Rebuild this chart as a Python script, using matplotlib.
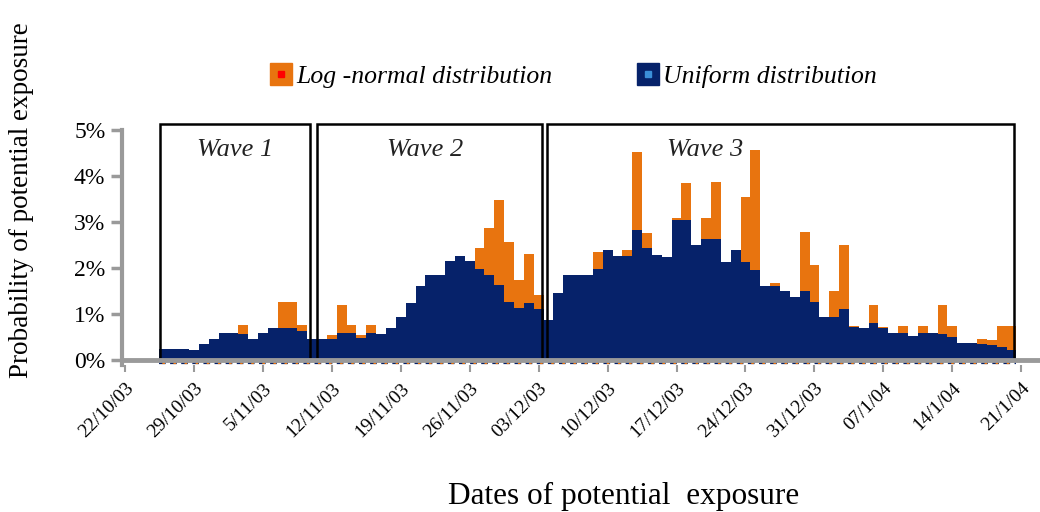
import numpy as np
import matplotlib
matplotlib.use('Agg')
import matplotlib.pyplot as plt
from matplotlib.patches import Rectangle
from matplotlib.lines import Line2D
from matplotlib.legend_handler import HandlerTuple

# days counted from 22/10/03, one bar per day
days = np.arange(4, 91)

uniform = [0.23, 0.23, 0.23, 0.21, 0.34, 0.46, 0.58, 0.58, 0.57, 0.46,
           0.58, 0.70, 0.70, 0.70, 0.64, 0.46, 0.46, 0.46, 0.58, 0.58,
           0.47, 0.58, 0.57, 0.69, 0.94, 1.23, 1.60, 1.85, 1.85, 2.15,
           2.26, 2.15, 1.97, 1.85, 1.63, 1.25, 1.12, 1.24, 1.10, 0.87,
           1.45, 1.85, 1.85, 1.85, 1.97, 2.39, 2.26, 2.26, 2.83, 2.43,
           2.28, 2.24, 3.04, 3.04, 2.50, 2.62, 2.62, 2.12, 2.39, 2.14,
           1.96, 1.61, 1.61, 1.49, 1.36, 1.49, 1.25, 0.94, 0.94, 1.10,
           0.72, 0.69, 0.81, 0.69, 0.58, 0.58, 0.52, 0.59, 0.59, 0.56,
           0.50, 0.37, 0.36, 0.35, 0.33, 0.28, 0.22]

lognormal = [0.23, 0.23, 0.23, 0.21, 0.34, 0.46, 0.58, 0.58, 0.75, 0.46,
             0.58, 0.70, 1.25, 1.25, 0.76, 0.46, 0.46, 0.54, 1.20, 0.75,
             0.54, 0.75, 0.57, 0.69, 0.94, 1.23, 1.60, 1.85, 1.85, 2.15,
             2.26, 2.15, 2.43, 2.88, 3.48, 2.57, 1.74, 2.30, 1.41, 0.87,
             1.45, 1.85, 1.85, 1.85, 2.35, 2.39, 2.26, 2.39, 4.53, 2.76,
             2.28, 2.24, 3.08, 3.85, 2.50, 3.08, 3.88, 2.12, 2.39, 3.54,
             4.56, 1.61, 1.68, 1.49, 1.36, 2.79, 2.07, 0.94, 1.49, 2.50,
             0.74, 0.69, 1.20, 0.72, 0.58, 0.74, 0.52, 0.74, 0.59, 1.20,
             0.74, 0.37, 0.36, 0.45, 0.44, 0.74, 0.74]

tick_days = np.arange(0, 92, 7)
tick_labels = ['22/10/03', '29/10/03', '5/11/03', '12/11/03', '19/11/03',
               '26/11/03', '03/12/03', '10/12/03', '17/12/03', '24/12/03',
               '31/12/03', '07/1/04', '14/1/04', '21/1/04']

wave_names = ['Wave 1', 'Wave 2', 'Wave 3']
wave_start = [3.55, 19.5, 42.85]
wave_end = [18.8, 42.3, 90.25]
wave_label_x = [11.2, 30.5, 58.9]

orange = '#E8740F'
navy = '#06226A'
grey = '#9a9a9a'
serif = ['Liberation Serif', 'DejaVu Serif']

fig = plt.figure(figsize=(10.4, 5.12), dpi=100)
ax = fig.add_axes([0.1173, 0.2879, 0.8827, 0.4762])

ax.bar(days, lognormal, width=1.0, color=orange, linewidth=0)
ax.bar(days, uniform, width=1.0, color=navy, linewidth=0)

# dashed baseline under the bars
ax.hlines(-0.06, days[0] - 0.5, days[-1] + 0.5, colors=navy, lw=1.6, linestyles=(0, (3, 2)))
ax.hlines(-0.06, days[0] - 0.5, days[-1] + 0.5, colors=orange, lw=1.6, linestyles=(3.5, (1.2, 3.8)))

for name, s, e, lx in zip(wave_names, wave_start, wave_end, wave_label_x):
    ax.add_patch(Rectangle((s, 0), e - s, 5.13, fill=False, ec='black', lw=1.8, zorder=5))
    ax.text(lx, 4.57, name, ha='center', va='center', fontsize=19,
            style='italic', family=serif, color='#222222')

ax.axhline(0, color=grey, lw=3.5, zorder=6)
ax.set_xlim(-0.3, 92.9)
ax.set_ylim(-0.1, 5.2)

ax.set_yticks(np.arange(0, 6))
ax.set_yticklabels(['%d%%' % v for v in range(6)], family=serif, fontsize=17)
ax.set_xticks(tick_days)
ax.set_xticklabels(tick_labels, rotation=45, ha='right', va='top',
                   rotation_mode='anchor', family=serif, fontsize=14)

for side in ['top', 'right', 'bottom']:
    ax.spines[side].set_visible(False)
ax.spines['left'].set_color(grey)
ax.spines['left'].set_linewidth(3)
ax.spines['left'].set_bounds(-0.1, 5)
ax.tick_params(axis='y', length=8, width=2.5, color=grey, pad=4)
ax.tick_params(axis='x', length=5, width=1.5, color=grey, pad=6)

fig.text(0.021, 0.61, 'Probability of potential exposure', rotation=90,
         ha='center', va='center', fontsize=19.5, family=serif)
fig.text(0.6, 0.03, 'Dates of potential  exposure', ha='center', va='center',
         fontsize=22.5, family=serif)

h_log = (Line2D([], [], marker='s', ms=16, color=orange, ls=''),
         Line2D([], [], marker='s', ms=5, color='red', ls=''))
h_uni = (Line2D([], [], marker='s', ms=16, color=navy, ls=''),
         Line2D([], [], marker='s', ms=5, color='#3b8fd9', ls=''))
fig.legend([h_log, h_uni], ['Log -normal distribution', 'Uniform distribution'],
           handler_map={tuple: HandlerTuple(ndivide=1)},
           loc='center', bbox_to_anchor=(0.5505, 0.85), ncol=2, frameon=False,
           handlelength=1.0, handletextpad=0.1, columnspacing=3.2,
           prop={'family': serif, 'style': 'italic', 'size': 18.5})

fig.savefig('out.png', dpi=100)
